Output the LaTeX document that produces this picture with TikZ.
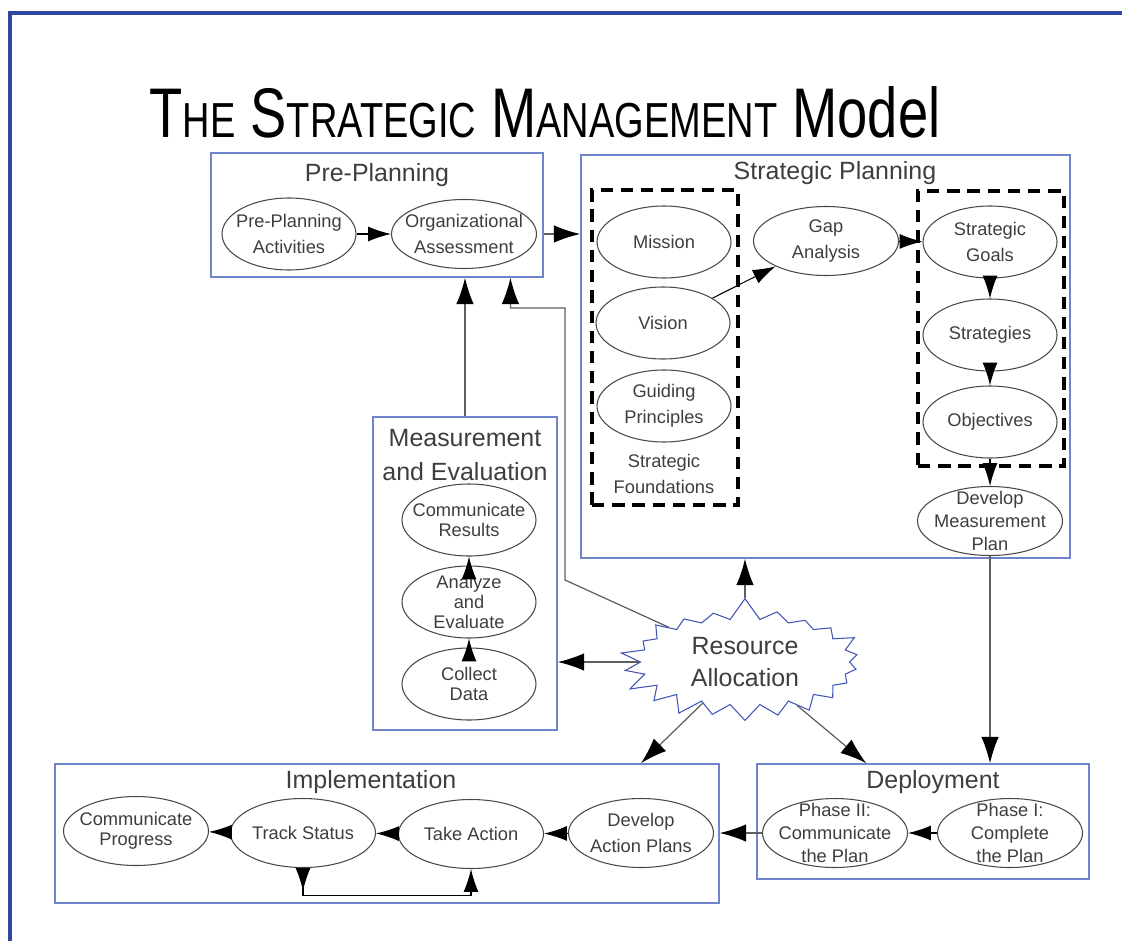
\documentclass[tikz,border=0pt]{standalone}
\usepackage{fontspec}
\setmainfont{Liberation Sans}
\usepackage{graphicx}
\usetikzlibrary{arrows.meta}
\usetikzlibrary{calc}
\usetikzlibrary{fit}
\usetikzlibrary{positioning}
\usetikzlibrary{shapes.geometric}
\usetikzlibrary{shapes.symbols}
\definecolor{frameblue}{RGB}{48,72,160}
\definecolor{boxblue}{RGB}{112,132,205}
\definecolor{burstblue}{RGB}{64,84,182}
\definecolor{inkgray}{RGB}{62,62,62}
\definecolor{ovalgray}{RGB}{72,72,72}
\definecolor{linegray}{RGB}{95,95,95}
\newcommand*{\titlesc}[1]{{\fontsize{28}{28}\selectfont #1}}
\tikzset{
    frame/.style = {draw=frameblue,line width=2.4pt},
    stage/.style = {draw=boxblue,line width=0.9pt,inner sep=0pt},
    group/.style = {draw=black,line width=2.2pt,dash pattern=on 7pt off 4.5pt,inner sep=0pt},
    head/.style = {text=inkgray,font=\fontsize{14.2}{19}\selectfont,align=center},
    oval/.style = {shape=ellipse,draw=ovalgray,line width=0.6pt,inner sep=0pt,minimum width=2.9cm,minimum height=1.38cm},
    slim/.style = {minimum width=2.68cm,minimum height=1.44cm},
    ovaltext/.style = {text=inkgray,font=\fontsize{10.4}{14.5}\selectfont,align=center},
    tight/.style = {font=\fontsize{10.4}{11.5}\selectfont},
    snug/.style = {font=\fontsize{10.4}{13}\selectfont},
    burst/.style = {shape=starburst,draw=burstblue,line width=0.6pt,starburst points=22,
        starburst point height=0.45cm,random starburst=7,minimum width=5.08cm,minimum height=2.34cm,
        text=inkgray,font=\fontsize{14.2}{18}\selectfont,align=center}
}
\tikzset{
    flow/.style = {draw=black,line width=0.6pt,-{Latex[length=13pt,width=8.5pt]}},
    feed/.style = {draw=linegray,line width=0.7pt,-{Latex[length=15pt,width=10pt,color=black]}}
}

\begin{document}
\begin{tikzpicture}[x=0.2mm,y=-0.2mm]
        \useasboundingbox (0,0) rectangle (1122,941);
        % Frame
        \draw[frame] (10,941) -- (10,13) -- (1122,13);
        % Title
        \node[anchor=base,inner sep=0pt] (title) at (545,138) {\resizebox{450pt}{\height}{%
            \fontsize{40}{40}\selectfont T\titlesc{HE} S\titlesc{TRATEGIC} M\titlesc{ANAGEMENT} Model}};
        % Stages
        \node[stage,fit={(211,153) (543,277)}] (pp) {};
        \node[stage,fit={(581,155) (1070,558)}] (sp) {};
        \node[stage,fit={(373,417) (557,730)}] (me) {};
        \node[stage,fit={(55,764) (719,903)}] (impl) {};
        \node[stage,fit={(757,764) (1089,879)}] (dep) {};
        \node[group,fit={(592,190) (738,505)}] (found) {};
        \node[group,fit={(918,191) (1064,466)}] (goals) {};
        % Stage headings
        \node[head] (pphead) at (377,175) {Pre-Planning};
        \node[head] (sphead) at (835,173) {Strategic Planning};
        \node[head] (mehead) at (465,455) {Measurement\\and Evaluation};
        \node[head] (implhead) at (371,782) {Implementation};
        \node[head] (dephead) at (933,782) {Deployment};
        \node[ovaltext] (foundlbl) at (664,474) {Strategic\\Foundations};
        % Pre-Planning
        \node[oval,slim,label={[ovaltext]center:{Pre-Planning\\Activities}}] (ppa) at (289,234) {};
        \node[oval,label={[ovaltext]center:{Organizational\\Assessment}}] (oa) at (464,234) {};
        % Strategic Planning
        \node[oval,slim,label={[ovaltext]center:Mission}] (mis) at (664,242) {};
        \node[oval,slim,label={[ovaltext]center:Vision}] (vis) at (663,323) {};
        \node[oval,slim,label={[ovaltext]center:{Guiding\\Principles}}] (guide) at (664,406) {};
        \node[oval,label={[ovaltext]center:{Gap\\Analysis}}] (gap) at (826,241) {};
        \node[oval,slim,label={[ovaltext]center:{Strategic\\Goals}}] (sg) at (990,242) {};
        \node[oval,slim,label={[ovaltext]center:Strategies}] (strat) at (990,335) {};
        \node[oval,slim,label={[ovaltext]center:Objectives}] (obj) at (990,422) {};
        \node[oval,label={[ovaltext,snug]center:{Develop\\Measurement\\Plan}}] (dmp) at (990,521) {};
        % Measurement and Evaluation
        \node[oval,slim,label={[ovaltext,tight]center:{Communicate\\Results}}] (cr) at (469,520) {};
        \node[oval,slim,label={[ovaltext,tight]center:{Analyze\\and\\Evaluate}}] (ae) at (469,602) {};
        \node[oval,slim,label={[ovaltext,tight]center:{Collect\\Data}}] (cd) at (469,684) {};
        % Implementation
        \node[oval,label={[ovaltext,tight]center:{Communicate\\Progress}}] (cp) at (136,831) {};
        \node[oval,label={[ovaltext]center:Track Status}] (ts) at (303,833) {};
        \node[oval,label={[ovaltext]center:Take Action}] (ta) at (471,834) {};
        \node[oval,label={[ovaltext]center:{Develop\\Action Plans}}] (dap) at (641,833) {};
        % Deployment
        \node[oval,label={[ovaltext,snug]center:{Phase II:\\Communicate\\the Plan}}] (ph2) at (835,833) {};
        \node[oval,label={[ovaltext,snug]center:{Phase I:\\Complete\\the Plan}}] (ph1) at (1010,833) {};
        % Resources
        \node[burst] (ra) at (745,662) {Resource\\Allocation};
        % Steps inside the stages
        \foreach \src/\dest in {ppa/oa,vis/gap,gap/sg,sg/strat,strat/obj,obj/dmp,cd/ae,ae/cr,dap/ta,ta/ts,ts/cp,ph1/ph2}
            \draw[flow] (\src) -- (\dest);
        \draw[flow,{Latex[reversed,length=13pt,width=8.5pt]}-{Latex[length=13pt,width=8.5pt]}]
            (ts.south) -- ++(0,27) -| (ta.south);
        % Between the stages
        \draw[feed] (pp.east |- oa) -- (sp.west |- oa);
        \draw[feed] (me.north) -- (me.north |- pp.south);
        \draw[feed] (dmp.south) -- (dmp.south |- dep.north);
        \draw[feed] (ph2.west) -- (impl.east |- ph2);
        % From the resources
        \coordinate (bendlow) at (565,580);
        \coordinate (bendhigh) at (565,308);
        \draw[feed] (ra.north) -- (ra.north |- sp.south);
        \draw[feed] (ra.west) -- (ra.west -| me.east);
        \draw[feed] (ra) -- (dap |- impl.north);
        \draw[feed] (ra) -- ($(dep.north west)!0.33!(dep.north east)$);
        \draw[feed] (ra) -- (bendlow) -- (bendhigh) -| ($(pp.south east)!0.1!(pp.south west)$);
\end{tikzpicture}
\end{document}
